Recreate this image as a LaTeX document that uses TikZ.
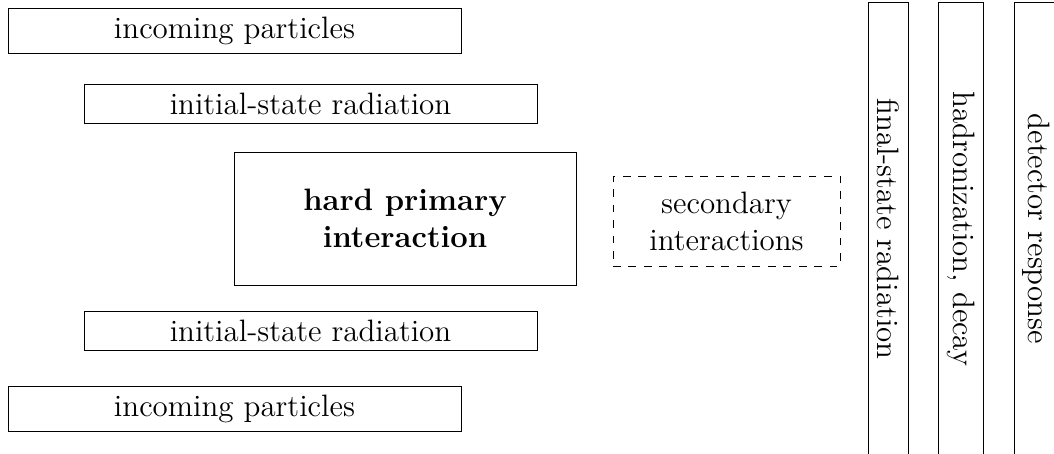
\documentclass[tikz,border=0pt]{standalone}
\newlength\pxu
\setlength\pxu{0.3876pt}
\begin{document}
\begin{tikzpicture}[x=0.3876pt,y=-0.3876pt, line width=0.32pt,
  every node/.style={font=\fontsize{12}{14.4}\selectfont, inner sep=3.33pt},
  hbox/.style={draw, minimum width=453\pxu},
  vbox/.style={draw, rotate=-90, minimum width=454\pxu},
  hardbox/.style={draw, align=center, minimum width=342\pxu, minimum height=133\pxu, font=\fontsize{12}{14.4}\selectfont\bfseries},
  secbox/.style={draw, dashed, align=center, minimum width=227\pxu, minimum height=90\pxu}]
\useasboundingbox (0,0) rectangle (1054,454);
\node[hbox] (inc1) at (234.5,30.5) {incoming particles};
\node[hbox] (isr1) at (310.5,103.7) {initial-state radiation};
\node[hardbox] (hard) at (405,218.5) {hard primary\\interaction};
\node[secbox] (sec) at (726.5,221) {secondary\\interactions};
\node[hbox] (isr2) at (310.5,330.7) {initial-state radiation};
\node[hbox] (inc2) at (234.5,409.2) {incoming particles};
\node[vbox] (fsr) at (888.5,229) {final-state radiation};
\node[vbox] (had) at (961,229) {hadronization, decay};
\node[vbox] (det) at (1036.5,229) {detector response};
\end{tikzpicture}
\end{document}
